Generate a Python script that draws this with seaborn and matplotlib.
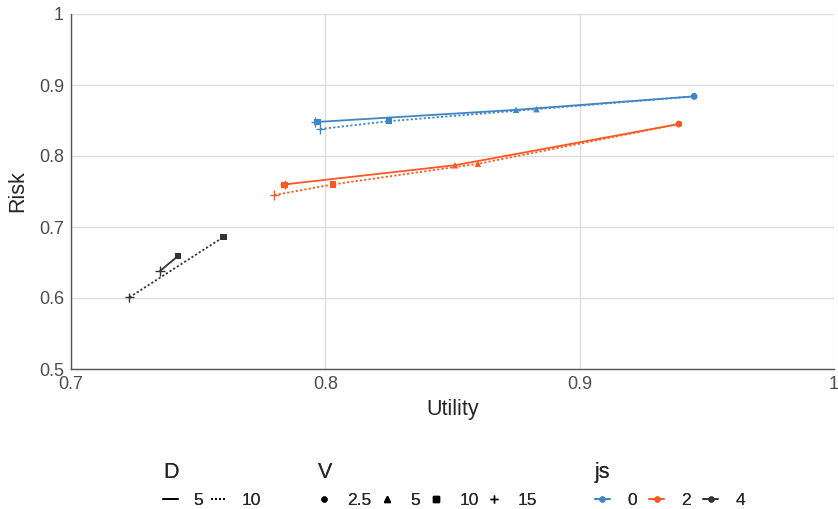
import pandas as pd
import matplotlib
matplotlib.use("Agg")
import matplotlib.pyplot as plt
from matplotlib.lines import Line2D
import seaborn as sns

# values
js = [0, 0, 0, 0, 0, 0, 0, 0, 2, 2, 2, 2, 2, 2, 2, 2, 4, 4, 4, 4]
D = [5, 5, 5, 5, 10, 10, 10, 10, 5, 5, 5, 5, 10, 10, 10, 10, 5, 5, 10, 10]
V = [2.5, 5, 10, 15, 2.5, 5, 10, 15, 2.5, 5, 10, 15, 2.5, 5, 10, 15, 10, 15, 10, 15]
utility = [0.945, 0.875, 0.797, 0.796, 0.945, 0.883, 0.825, 0.798,
           0.939, 0.851, 0.784, 0.784, 0.939, 0.860, 0.803, 0.780,
           0.742, 0.735, 0.760, 0.723]
risk = [0.884, 0.865, 0.848, 0.848, 0.884, 0.866, 0.849, 0.838,
        0.845, 0.787, 0.759, 0.760, 0.845, 0.789, 0.760, 0.745,
        0.659, 0.638, 0.686, 0.601]

df = pd.DataFrame({"js": js, "D": D, "V": V, "Utility": utility, "Risk": risk})
df["js"] = df["js"].astype(str)
df["D"] = df["D"].astype(str)

colors = {"0": "#3f86c6", "2": "#ff5722", "4": "#333333"}
dashes = {"5": "", "10": (1.2, 1.2)}
markers = {2.5: "o", 5: "^", 10: "s"}

sns.set_style("white")
plt.rcParams["font.family"] = ["Liberation Sans", "DejaVu Sans"]

fig = plt.figure(figsize=(8.38, 5.09), dpi=100)
ax = fig.add_axes([71 / 838, 1 - 369 / 509, 763 / 838, 355 / 509])

sns.lineplot(data=df, x="Utility", y="Risk", hue="js", style="D",
             palette=colors, dashes=dashes, linewidth=1.3,
             estimator=None, sort=True, legend=False, ax=ax)

filled = df[df["V"] != 15]
sns.scatterplot(data=filled, x="Utility", y="Risk", hue="js", style="V",
                palette=colors, markers=markers, s=22, linewidth=0,
                legend=False, ax=ax)
plus = df[df["V"] == 15]
sns.scatterplot(data=plus, x="Utility", y="Risk", hue="js", marker="+",
                palette=colors, s=45, linewidth=1.0, legend=False, ax=ax)

ax.set_xlim(0.7, 1.0)
ax.set_ylim(0.5, 1.0)
ax.set_xticks([0.7, 0.8, 0.9, 1.0])
ax.set_xticklabels(["0.7", "0.8", "0.9", "1"])
ax.set_yticks([0.5, 0.6, 0.7, 0.8, 0.9, 1.0])
ax.set_yticklabels(["0.5", "0.6", "0.7", "0.8", "0.9", "1"])
ax.grid(True, color="#dedede", linewidth=1.0)
ax.set_axisbelow(True)
for side in ["top", "right"]:
    ax.spines[side].set_visible(False)
for side in ["left", "bottom"]:
    ax.spines[side].set_color("#555555")
    ax.spines[side].set_linewidth(1.0)
ax.tick_params(axis="both", length=3, color="#cccccc", labelsize=13,
               labelcolor="#4d4d4d", pad=2)
ax.set_xlabel("Utility", fontsize=15.5, labelpad=4)
ax.set_ylabel("Risk", fontsize=15.5, labelpad=8)

# legends at the bottom
def add_legend(handles, labels, title, x, hlen, hpad, cspace):
    leg = fig.legend(handles, labels, title=title, loc="upper left",
                     bbox_to_anchor=(x, 0.105), ncol=len(handles),
                     frameon=False, fontsize=12.5, title_fontsize=15.5,
                     handlelength=hlen, handletextpad=hpad, columnspacing=cspace,
                     borderaxespad=0, labelspacing=0.55)
    leg._legend_box.align = "left"
    fig.add_artist(leg)

d_handles = [Line2D([], [], color="black", linewidth=1.2),
             Line2D([], [], color="black", linewidth=1.2, linestyle=(0, (1.2, 1.2)))]
add_legend(d_handles, ["5", "10"], "D", 0.186, 0.9, 0.85, 0.45)

v_handles = [Line2D([], [], color="black", marker=m, linestyle="none", markersize=ms,
                    markeredgewidth=1.0)
             for m, ms in [("o", 3.5), ("^", 4), ("s", 4), ("+", 6)]]
add_legend(v_handles, ["2.5", "5", "10", "15"], "V", 0.371, 0.7, 1.0, 0.55)

js_handles = [Line2D([], [], color=c, marker="o", markersize=3.5, linewidth=1.2)
              for c in colors.values()]
add_legend(js_handles, ["0", "2", "4"], "js", 0.7017, 0.86, 1.0, 0.7)

fig.savefig("out.png", dpi=100)
